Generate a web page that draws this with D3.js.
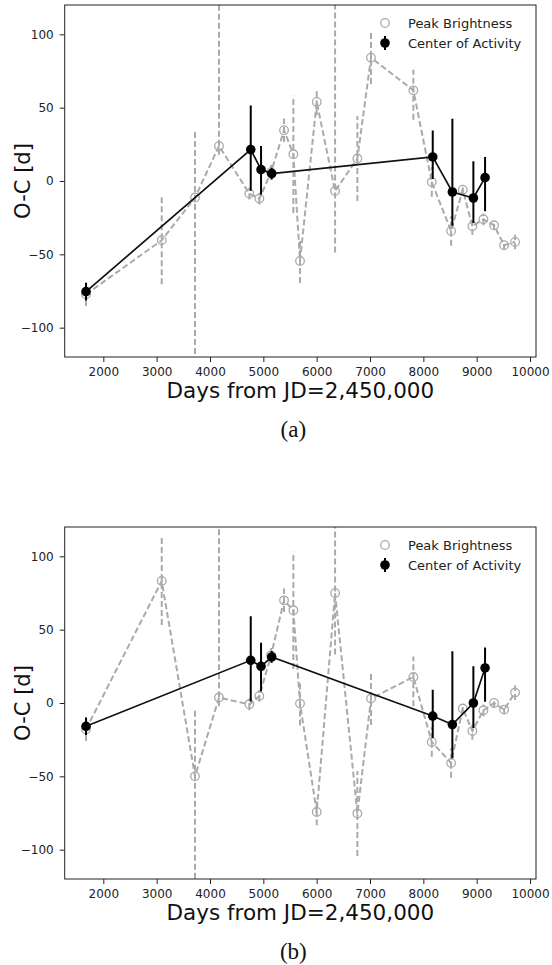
<!DOCTYPE html>
<html>
<head>
<meta charset="utf-8">
<script src="https://cdn.jsdelivr.net/npm/d3@7"></script>
<style>
  body { margin: 0; background: #fff; }
  text { font-family: "DejaVu Sans", sans-serif; }
</style>
</head>
<body>
<svg id="chart" width="552" height="965"></svg>
<script>
// peak brightness times (days from JD 2,450,000) and O-C for both panels
var peak_days = [1676, 3095, 3719, 4169, 4738, 4926, 5145, 5388, 5563, 5688, 6001, 6345,
                 6763, 7019, 7813, 8158, 8520, 8739, 8919, 9126, 9326, 9514, 9720];
var peak_oc_a = [-77.3, -40.4, -11.3, 23.9, -8.6, -12.0, 6.0, 34.6, 18.2, -54.5, 53.9, -6.8,
                 15.3, 84.1, 61.8, -0.7, -34.1, -5.9, -30.9, -26.1, -30.2, -43.8, -41.6];
var peak_oc_b = [-17.9, 83.2, -50.0, 3.7, -0.9, 4.8, 32.5, 70.0, 63.2, -0.4, -74.3, 75.0,
                 -75.4, 3.0, 17.7, -26.6, -40.9, -3.8, -19.1, -5.0, 0.0, -4.5, 7.1];
var peak_err_lo = [8, 30, 125, 6, 4, 4, 5, 8, 40, 15, 9, 42, 29, 18, 20, 10, 10, 3, 6, 4, 3, 3, 5];
var peak_err_hi = [8, 30, 46, 135, 4, 4, 5, 8, 40, 15, 9, 135, 29, 18, 14, 10, 10, 3, 6, 4, 3, 3, 5];

// center of activity
var center_days = [1676, 4764, 4957, 5157, 8176, 8544, 8938, 9157];
var center_oc_a = [-75.4, 21.4, 7.8, 5.0, 16.4, -7.5, -11.6, 2.3];
var center_oc_b = [-15.9, 29.1, 25.0, 31.4, -8.9, -14.7, 0.0, 23.9];
var center_err_lo = [6, 28, 17, 4, 15, 23, 17, 23];
var center_err_hi = [6, 30, 16, 4, 18, 50, 25, 14];

var x_ticks = [2000, 3000, 4000, 5000, 6000, 7000, 8000, 9000, 10000];
var y_ticks = [-100, -50, 0, 50, 100];
var legend_labels = ["Peak Brightness", "Center of Activity"];
var panel_captions = ["(a)", "(b)"];

var GRAY = "#aaaaaa";
var svg = d3.select("#chart");

var x_left = 64.7, x_right = 536, panel_h = 352;
var x = d3.scaleLinear().domain([1276, 10112]).range([x_left, x_right]);

/*
 * renders one O-C panel with frame, axes, both series,
 * legend and caption
 */
function renderPanel(svg, top, idx, peak_oc, center_oc) {
    var y = d3.scaleLinear().domain([-120, 120]).range([top + panel_h, top]);
    var g = svg.append("g");

    g.append("clipPath")
        .attr("id", "clip" + idx)
        .append("rect")
        .attr("x", x_left).attr("y", top)
        .attr("width", x_right - x_left).attr("height", panel_h);

    var plot = g.append("g").attr("clip-path", "url(#clip" + idx + ")");

    // peak brightness: dashed gray line, dashed error bars, open circles
    var peak = peak_days.map(function(d, i) {
        return {x: d, y: peak_oc[i], lo: peak_err_lo[i], hi: peak_err_hi[i]};
    });

    plot.selectAll(".perr")
        .data(peak).enter().append("line")
        .attr("x1", function(d) { return x(d.x); })
        .attr("x2", function(d) { return x(d.x); })
        .attr("y1", function(d) { return y(d.y - d.lo); })
        .attr("y2", function(d) { return y(d.y + d.hi); })
        .style("stroke", GRAY)
        .style("stroke-width", 2)
        .style("stroke-dasharray", "6,3");

    plot.append("path")
        .datum(peak)
        .attr("d", d3.line().x(function(d) { return x(d.x); }).y(function(d) { return y(d.y); }))
        .attr("fill", "none")
        .style("stroke", GRAY)
        .style("stroke-width", 2)
        .style("stroke-dasharray", "6,3");

    plot.selectAll(".pdot")
        .data(peak).enter().append("circle")
        .attr("cx", function(d) { return x(d.x); })
        .attr("cy", function(d) { return y(d.y); })
        .attr("r", 4.3)
        .attr("fill", "none")
        .attr("stroke", GRAY)
        .attr("stroke-width", 1.3);

    // center of activity: solid black line with error bars
    var center = center_days.map(function(d, i) {
        return {x: d, y: center_oc[i], lo: center_err_lo[i], hi: center_err_hi[i]};
    });

    plot.selectAll(".cerr")
        .data(center).enter().append("line")
        .attr("x1", function(d) { return x(d.x); })
        .attr("x2", function(d) { return x(d.x); })
        .attr("y1", function(d) { return y(d.y - d.lo); })
        .attr("y2", function(d) { return y(d.y + d.hi); })
        .style("stroke", "#000")
        .style("stroke-width", 2);

    plot.append("path")
        .datum(center)
        .attr("d", d3.line().x(function(d) { return x(d.x); }).y(function(d) { return y(d.y); }))
        .attr("fill", "none")
        .style("stroke", "#111")
        .style("stroke-width", 1.7);

    plot.selectAll(".cdot")
        .data(center).enter().append("circle")
        .attr("cx", function(d) { return x(d.x); })
        .attr("cy", function(d) { return y(d.y); })
        .attr("r", 4.8)
        .attr("fill", "#000");

    // axes
    var xa = g.append("g")
        .attr("transform", "translate(0," + (top + panel_h) + ")")
        .call(d3.axisBottom(x).tickValues(x_ticks).tickFormat(d3.format("d")).tickSize(5).tickPadding(5.5));
    var ya = g.append("g")
        .attr("transform", "translate(" + x_left + ",0)")
        .call(d3.axisLeft(y).tickValues(y_ticks).tickFormat(d3.format("d")).tickSize(5).tickPadding(6));
    [xa, ya].forEach(function(a) {
        a.select(".domain").remove();
        a.selectAll("line").attr("stroke", "#222");
        a.selectAll("text").attr("font-size", 12).attr("fill", "#222")
            .attr("font-family", "DejaVu Sans");
    });
    ya.selectAll("text").text(function(d) { return d < 0 ? "\u2212" + Math.abs(d) : d; });

    // frame
    g.append("rect")
        .attr("x", x_left).attr("y", top)
        .attr("width", x_right - x_left).attr("height", panel_h)
        .attr("fill", "none")
        .style("stroke", "#222")
        .style("stroke-width", 1);

    // axis titles
    g.append("text")
        .attr("x", (x_left + x_right) / 2)
        .attr("y", top + 392.5)
        .attr("text-anchor", "middle")
        .attr("font-size", 21.5)
        .attr("fill", "#111")
        .text("Days from JD=2,450,000");

    g.append("text")
        .attr("transform", "translate(29.5," + (top + panel_h / 2) + ") rotate(-90)")
        .attr("text-anchor", "middle")
        .attr("font-size", 21)
        .attr("fill", "#111")
        .text("O-C [d]");

    // legend
    var lg = g.append("g").attr("transform", "translate(385," + (top + 18) + ")");
    lg.append("circle")
        .attr("cx", 0).attr("cy", 0).attr("r", 4.3)
        .attr("fill", "none").attr("stroke", GRAY).attr("stroke-width", 1.3);
    lg.append("line")
        .attr("x1", 0).attr("x2", 0).attr("y1", 13).attr("y2", 27)
        .style("stroke", "#000").style("stroke-width", 2);
    lg.append("circle")
        .attr("cx", 0).attr("cy", 20).attr("r", 4.8).attr("fill", "#000");
    lg.selectAll("text")
        .data(legend_labels).enter().append("text")
        .attr("x", 23)
        .attr("y", function(d, i) { return i * 20; })
        .attr("dy", "0.35em")
        .attr("font-size", 13)
        .attr("fill", "#222")
        .text(function(d) { return d; });

    // caption below the panel
    g.append("text")
        .attr("x", (x_left + x_right) / 2 - 7)
        .attr("y", top + 431.5)
        .attr("text-anchor", "middle")
        .style("font-family", "'Liberation Serif', serif")
        .attr("font-size", 23)
        .attr("fill", "#111")
        .text(panel_captions[idx]);
}

renderPanel(svg, 5, 0, peak_oc_a, center_oc_a);
renderPanel(svg, 527, 1, peak_oc_b, center_oc_b);
</script>
</body>
</html>
